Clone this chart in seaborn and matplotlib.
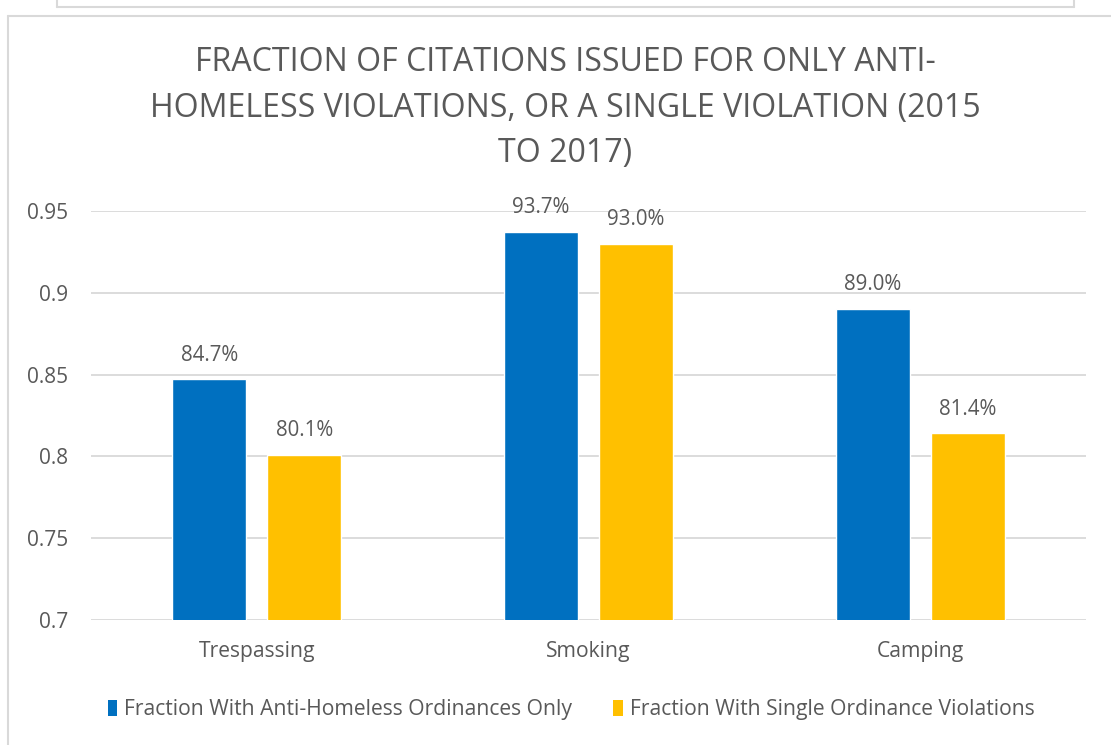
import matplotlib
matplotlib.use("Agg")
import matplotlib.pyplot as plt
import seaborn as sns
import pandas as pd
from matplotlib.patches import Patch
from matplotlib.lines import Line2D

categories = ["Trespassing", "Smoking", "Camping"]
series_names = ["Fraction With Anti-Homeless Ordinances Only",
                "Fraction With Single Ordinance Violations"]
anti_homeless = [0.847, 0.937, 0.890]
single_violation = [0.801, 0.930, 0.814]
y_ticks = [0.7, 0.75, 0.8, 0.85, 0.9, 0.95]
y_tick_labels = ["0.7", "0.75", "0.8", "0.85", "0.9", "0.95"]
title = "FRACTION OF CITATIONS ISSUED FOR ONLY ANTI-\nHOMELESS VIOLATIONS, OR A SINGLE VIOLATION (2015\nTO 2017)"

colors = ["#0070C0", "#FFC000"]
text_gray = "#595959"
grid_gray = "#D9D9D9"

df = pd.DataFrame({
    "category": categories * 2,
    "series": [series_names[0]] * 3 + [series_names[1]] * 3,
    "value": anti_homeless + single_violation,
})

sns.set_theme(style="white")
plt.rcParams["font.family"] = ["Open Sans", "DejaVu Sans"]

fig = plt.figure(figsize=(11.11, 7.45), dpi=100)
ax = fig.add_axes([0.0819, 0.1678, 0.8956, 0.549])

sns.barplot(data=df, x="category", y="value", hue="series", order=categories,
            hue_order=series_names, palette=colors, width=0.573, gap=0.22,
            errorbar=None, ax=ax, legend=False, saturation=1)

ax.set_ylim(0.7, 0.95)
ax.set_xlim(-0.5, 2.5)
ax.set_yticks(y_ticks)
ax.set_yticklabels(y_tick_labels)
ax.yaxis.grid(True, color=grid_gray, linewidth=1.3)
ax.set_axisbelow(True)
for s in ax.spines.values():
    s.set_visible(False)
ax.tick_params(axis="both", length=0, colors=text_gray)
ax.tick_params(axis="y", pad=16.5, labelsize=15)
ax.tick_params(axis="x", pad=15, labelsize=15.2)
ax.set_xlabel("")
ax.set_ylabel("")

for container in ax.containers:
    labels = [f"{b.get_height() * 100:.1f}%" for b in container]
    ax.bar_label(container, labels=labels, padding=10, fontsize=14.8, color=text_gray)

fig.text(0.509, 0.855, title, ha="center", va="center", fontsize=23.1,
         color=text_gray, linespacing=1.5)

handles = [Patch(facecolor=c, edgecolor="none") for c in colors]
fig.legend(handles, series_names, loc="center", bbox_to_anchor=(0.514, 0.047),
           ncol=2, frameon=False, fontsize=15.2, labelcolor=text_gray,
           handlelength=0.45, handleheight=0.75, handletextpad=0.33,
           columnspacing=1.95, borderpad=0, borderaxespad=0)

# Outer frame around the chart and edge of the box above it
fig.add_artist(Line2D([0.0072, 0.0072], [0, 0.978], color=grid_gray, lw=1.5))
fig.add_artist(Line2D([0.0072, 1.0], [0.978, 0.978], color=grid_gray, lw=1.5))
fig.add_artist(Line2D([0.0513, 0.9667], [0.990, 0.990], color=grid_gray, lw=1.5))
fig.add_artist(Line2D([0.0513, 0.0513], [0.990, 1.0], color=grid_gray, lw=1.5))
fig.add_artist(Line2D([0.9667, 0.9667], [0.990, 1.0], color=grid_gray, lw=1.5))

fig.savefig("out.png", dpi=100)
